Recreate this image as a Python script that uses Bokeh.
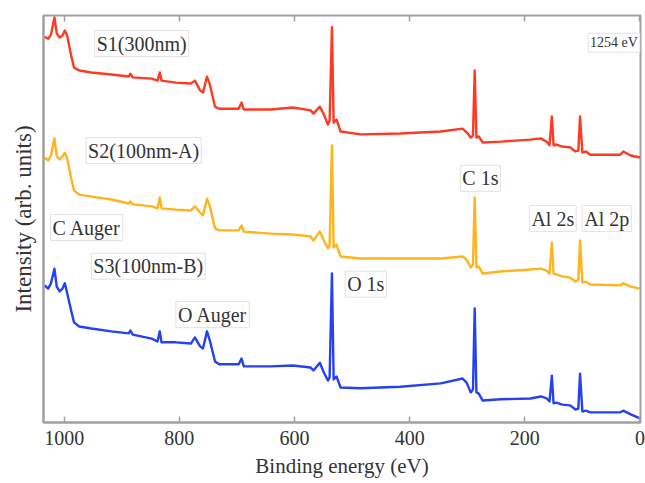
from bokeh.plotting import figure
from bokeh.models import Range1d, LinearAxis, FixedTicker, Label
from bokeh.embed import file_html
from bokeh.resources import INLINE

# Binding energy (eV) sampling shared by the three spectra
energy = [1034, 1028, 1023, 1017, 1013, 1008, 1003, 999, 995, 988,
          983, 974, 953, 918, 888, 885, 881, 848, 838, 834,
          831, 806, 780, 773, 764, 759, 752, 747, 738, 731,
          697, 692, 688, 641, 603, 572, 567, 556, 549, 542,
          539, 535, 532, 527, 520, 485, 416, 346, 308, 301,
          294, 290, 287, 284, 280, 273, 242, 190, 172, 162,
          157, 153, 150, 145, 135, 121, 112, 107, 104, 100,
          94, 86, 34, 29, 16, 0]

s1_300nm = [94.8, 94.3, 95.3, 99.5, 95.6, 94.6, 95.1, 96.3, 95.1, 90.2,
            87.2, 86.5, 86.0, 85.5, 85.0, 85.7, 84.8, 84.5, 84.0, 86.0,
            84.0, 83.5, 83.3, 84.0, 81.6, 81.1, 85.0, 83.0, 77.6, 77.1,
            77.1, 78.6, 76.9, 76.9, 77.4, 76.7, 75.9, 77.6, 75.7, 73.2,
            74.2, 97.1, 73.7, 74.4, 71.5, 70.8, 71.0, 71.5, 72.2, 71.3,
            70.0, 70.5, 86.5, 70.0, 70.3, 68.8, 69.0, 69.5, 69.8, 69.0,
            68.1, 75.2, 68.1, 68.3, 67.8, 67.6, 66.6, 66.8, 75.2, 66.3,
            66.6, 65.8, 65.8, 66.6, 65.6, 65.1]

s2_100nm_a = [65.1, 64.4, 65.6, 69.8, 65.4, 64.6, 65.4, 66.3, 64.9, 60.0,
              57.0, 56.0, 55.5, 54.8, 53.8, 54.3, 53.6, 53.1, 52.6, 55.3,
              52.6, 52.3, 52.1, 53.1, 51.6, 50.9, 55.0, 53.1, 47.7, 47.2,
              47.2, 48.4, 46.9, 46.4, 46.2, 45.7, 44.7, 46.9, 44.7, 42.8,
              43.5, 68.1, 43.0, 43.7, 40.8, 40.3, 40.3, 40.3, 40.8, 40.0,
              38.1, 38.8, 55.3, 38.1, 38.3, 36.6, 37.1, 37.6, 37.8, 37.3,
              36.6, 44.2, 36.6, 36.4, 35.9, 35.6, 34.6, 35.1, 44.7, 34.4,
              34.6, 33.9, 33.7, 34.2, 33.4, 32.9]

s3_100nm_b = [33.7, 32.9, 34.2, 37.8, 33.4, 32.2, 32.9, 34.2, 31.9, 27.5,
              24.6, 23.6, 23.1, 22.4, 21.9, 22.6, 21.6, 20.6, 19.9, 22.4,
              19.7, 19.7, 19.4, 20.9, 18.7, 18.2, 22.4, 20.1, 15.0, 14.3,
              14.3, 15.7, 13.8, 13.8, 14.0, 13.5, 12.8, 14.7, 12.3, 10.3,
              11.1, 36.6, 10.6, 11.3, 8.6, 8.4, 8.8, 9.6, 10.8, 9.8,
              7.4, 8.1, 28.0, 7.4, 7.1, 5.4, 5.7, 5.9, 6.4, 5.9,
              5.2, 11.5, 4.7, 4.9, 4.4, 4.2, 3.2, 3.4, 12.0, 2.7,
              2.9, 2.5, 2.5, 2.9, 2.0, 1.0]

tick_values = [0, 200, 400, 600, 800, 1000]

# annotation texts with (energy, intensity) anchor
annotations = [
    ("S1(300nm)", 947, 93.1),
    ("S2(100nm-A)", 962, 66.8),
    ("S3(100nm-B)", 953, 38.4),
    ("C Auger", 1024, 47.9),
    ("O Auger", 806, 26.5),
    ("O 1s", 512, 34.0),
    ("C 1s", 312, 60.0),
    ("Al 2s", 192, 50.1),
    ("Al 2p", 100, 50.1),
]

SERIF = "Liberation Serif"
GRAY = "#a0a0a0"

p = figure(width=645, height=481, output_backend="svg", toolbar_location=None,
           x_range=Range1d(1036, -1), y_range=Range1d(0, 100),
           min_border_left=43, min_border_right=5, min_border_top=15,
           min_border_bottom=59)
p.xgrid.visible = False
p.ygrid.visible = False
p.outline_line_color = GRAY
p.outline_line_width = 2
p.background_fill_color = "white"
p.border_fill_color = "white"

for vals, col in [(s1_300nm, "#ff3a22"), (s2_100nm_a, "#ffb41e"), (s3_100nm_b, "#2442f2")]:
    p.line(energy, vals, line_color=col, line_width=2.4, line_join="round")

xa = p.xaxis[0]
xa.ticker = FixedTicker(ticks=tick_values)
xa.axis_label = "Binding energy (eV)"
xa.axis_label_text_font = SERIF
xa.axis_label_text_font_style = "normal"
xa.axis_label_text_font_size = "21px"
xa.axis_label_text_color = "#333333"
xa.axis_label_standoff = 6
xa.major_label_text_font = SERIF
xa.major_label_text_font_size = "20px"
xa.major_label_text_color = "#333333"
xa.major_label_standoff = 8
xa.major_tick_in = 6
xa.major_tick_out = 0
xa.major_tick_line_color = GRAY
xa.major_tick_line_width = 1.5
xa.minor_tick_line_color = None
xa.axis_line_color = GRAY
xa.axis_line_width = 2

ya = p.yaxis[0]
ya.ticker = FixedTicker(ticks=[])
ya.axis_label = "Intensity (arb. units)"
ya.axis_label_text_font = SERIF
ya.axis_label_text_font_style = "normal"
ya.axis_label_text_font_size = "23px"
ya.axis_label_text_color = "#333333"
ya.axis_label_standoff = 8
ya.major_tick_line_color = None
ya.minor_tick_line_color = None
ya.axis_line_color = GRAY
ya.axis_line_width = 2

top = LinearAxis(ticker=FixedTicker(ticks=tick_values), major_label_text_color=None,
                 major_label_text_font_size="6px", major_label_standoff=0,
                 axis_line_color=None, major_tick_in=6, major_tick_out=0,
                 major_tick_line_color=GRAY, major_tick_line_width=1.5,
                 minor_tick_line_color=None)
p.add_layout(top, "above")

for txt, x, y in annotations:
    p.add_layout(Label(x=x, y=y, text=txt, text_font=SERIF, text_font_size="20px",
                       text_color="#333333", text_align="left", text_baseline="middle",
                       background_fill_color="white", border_line_color="#e2e2e2",
                       border_line_width=1, padding=2))

p.add_layout(Label(x=90, y=93.3, text="1254 eV", text_font=SERIF, text_font_size="14px",
                   text_color="#333333", text_align="left", text_baseline="middle",
                   background_fill_color="white", border_line_color="#e2e2e2",
                   border_line_width=1, padding=2))

open("out.html", "w").write(file_html(p, INLINE))
